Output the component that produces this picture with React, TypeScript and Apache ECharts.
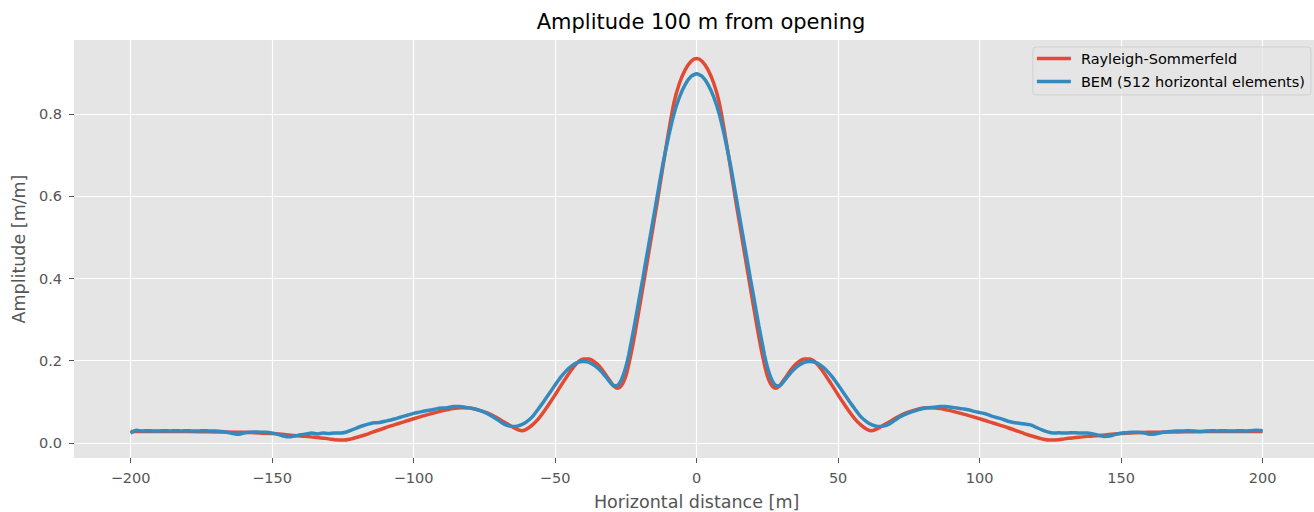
import React, { useEffect, useRef } from "react";
import * as echarts from "echarts";

// Rayleigh-Sommerfeld
const rsX = [
  -200, -190, -180, -170, -160, -150, -145, -140, -135, -130, -128, -125, -122, -120, -117, -115, -110, -105, -100, -95, -90, -86, -83, -80, -77, -74, -71, -68, -65, -63, -61.5, -60, -58, -56, -54, -52, -50, -48, -46, -44, -42, -40, -38, -36, -34, -32, -30, -29, -28, -27, -26, -25, -24, -23, -22, -20, -18, -16, -14, -12, -10, -8, -6, -4, -2,
  0,
  2, 4, 6, 8, 10, 12, 14, 16, 18, 20, 22, 23, 24, 25, 26, 27, 28, 29, 30, 32, 34, 36, 38, 40, 42, 44, 46, 48, 50, 52, 54, 56, 58, 60, 61.5, 63, 65, 68, 71, 74, 77, 80, 83, 86, 90, 95, 100, 105, 110, 115, 117, 120, 122, 125, 128, 130, 135, 140, 145, 150, 160, 170, 180, 190, 200,
];
const rsY = [
  0.028, 0.028, 0.028, 0.027, 0.026, 0.023, 0.020, 0.017, 0.014, 0.010, 0.008, 0.007, 0.010, 0.014, 0.020, 0.025, 0.037, 0.048, 0.059, 0.069, 0.078, 0.084, 0.086, 0.085, 0.080, 0.073, 0.063, 0.051, 0.039, 0.032, 0.030, 0.034, 0.044, 0.058, 0.076, 0.096, 0.117, 0.139, 0.160, 0.180, 0.196, 0.204, 0.204, 0.197, 0.184, 0.165, 0.145, 0.137, 0.133, 0.136, 0.146, 0.163, 0.19, 0.222, 0.258, 0.337, 0.418, 0.5, 0.582, 0.668, 0.752, 0.828, 0.876, 0.908, 0.928,
  0.935,
  0.928, 0.908, 0.876, 0.828, 0.752, 0.668, 0.582, 0.5, 0.418, 0.337, 0.258, 0.222, 0.19, 0.163, 0.146, 0.136, 0.133, 0.137, 0.145, 0.165, 0.184, 0.197, 0.204, 0.204, 0.196, 0.180, 0.160, 0.139, 0.117, 0.096, 0.076, 0.058, 0.044, 0.034, 0.030, 0.032, 0.039, 0.051, 0.063, 0.073, 0.080, 0.085, 0.086, 0.084, 0.078, 0.069, 0.059, 0.048, 0.037, 0.025, 0.020, 0.014, 0.010, 0.007, 0.008, 0.010, 0.014, 0.017, 0.020, 0.023, 0.026, 0.027, 0.028, 0.028, 0.028,
];

// BEM (512 horizontal elements)
const bemX = [
  -200, -198, -196, -194, -192, -190, -188, -186, -184, -182, -180, -178, -176, -174, -172, -170, -168, -166, -164, -162, -160, -158, -156, -154, -152, -150, -148, -146, -144, -142, -140, -138, -136, -134, -132, -130, -128, -126, -124, -122, -120, -118, -116, -114, -112, -110, -108, -106, -104, -102, -100, -98, -96, -94, -92, -90, -88, -86, -84, -81, -78, -75, -72, -70, -68, -66, -64, -62, -60, -58, -56, -54, -52, -50, -48, -46, -44, -42, -40, -38, -36, -34, -32, -30, -29, -28, -27, -26, -25, -24, -22, -20, -19, -18, -16, -14, -12, -10, -8, -6, -4, -2,
  0,
  2, 4, 6, 8, 10, 12, 14, 16, 18, 19, 20, 22, 24, 25, 26, 27, 28, 29, 30, 32, 34, 36, 38, 40, 42, 44, 46, 48, 50, 52, 54, 56, 58, 60, 62, 64, 66, 68, 70, 72, 75, 78, 81, 84, 86, 88, 90, 92, 94, 96, 98, 100, 102, 104, 106, 108, 110, 112, 114, 116, 118, 120, 122, 124, 126, 128, 130, 132, 134, 136, 138, 140, 142, 144, 146, 148, 150, 152, 154, 156, 158, 160, 162, 164, 166, 168, 170, 172, 174, 176, 178, 180, 182, 184, 186, 188, 190, 192, 194, 196, 198, 200,
];
const bemY = [
  0.024, 0.031, 0.029, 0.030, 0.029, 0.029, 0.030, 0.029, 0.030, 0.029, 0.030, 0.029, 0.029, 0.030, 0.029, 0.029, 0.028, 0.026, 0.023, 0.021, 0.024, 0.026, 0.027, 0.026, 0.026, 0.024, 0.021, 0.017, 0.015, 0.017, 0.020, 0.022, 0.024, 0.022, 0.024, 0.023, 0.024, 0.024, 0.026, 0.031, 0.037, 0.042, 0.046, 0.049, 0.050, 0.053, 0.056, 0.060, 0.064, 0.068, 0.072, 0.075, 0.078, 0.080, 0.083, 0.085, 0.086, 0.089, 0.089, 0.086, 0.082, 0.075, 0.064, 0.055, 0.046, 0.041, 0.040, 0.044, 0.052, 0.064, 0.082, 0.101, 0.121, 0.141, 0.160, 0.176, 0.188, 0.196, 0.198, 0.196, 0.188, 0.176, 0.160, 0.143, 0.139, 0.140, 0.148, 0.163, 0.185, 0.214, 0.285, 0.362, 0.4, 0.44, 0.518, 0.597, 0.675, 0.742, 0.800, 0.842, 0.872, 0.891,
  0.898,
  0.891, 0.872, 0.842, 0.800, 0.742, 0.675, 0.597, 0.518, 0.44, 0.4, 0.362, 0.285, 0.214, 0.185, 0.163, 0.148, 0.140, 0.139, 0.143, 0.160, 0.176, 0.188, 0.196, 0.198, 0.196, 0.188, 0.176, 0.160, 0.141, 0.121, 0.101, 0.082, 0.064, 0.052, 0.044, 0.040, 0.041, 0.046, 0.055, 0.064, 0.073, 0.080, 0.085, 0.087, 0.089, 0.089, 0.087, 0.085, 0.083, 0.081, 0.077, 0.074, 0.071, 0.066, 0.062, 0.058, 0.053, 0.050, 0.048, 0.046, 0.044, 0.038, 0.032, 0.027, 0.024, 0.025, 0.024, 0.025, 0.025, 0.024, 0.024, 0.022, 0.019, 0.016, 0.017, 0.021, 0.024, 0.025, 0.026, 0.026, 0.025, 0.021, 0.022, 0.025, 0.027, 0.028, 0.029, 0.029, 0.030, 0.029, 0.028, 0.029, 0.030, 0.029, 0.030, 0.029, 0.029, 0.030, 0.029, 0.030, 0.031, 0.030,
];

const xTicks = [-200, -150, -100, -50, 0, 50, 100, 150, 200];
const yTicks = [0, 0.2, 0.4, 0.6, 0.8];

const FONT = "DejaVu Sans";

export default function App() {
  const ref = useRef<HTMLDivElement>(null);
  useEffect(() => {
    if (!ref.current) return;
    const chart = echarts.init(ref.current, null, { renderer: "svg" });
    const rsData = rsX.map((x, i) => [x, rsY[i]]);
    const bemData = bemX.map((x, i) => [x, bemY[i]]);
    chart.setOption({
      animation: false,
      backgroundColor: "#ffffff",
      textStyle: { fontFamily: FONT },
      title: {
        text: "Amplitude 100 m from opening",
        left: 696,
        textAlign: "center",
        top: 6,
        textStyle: { fontFamily: FONT, fontSize: 21, fontWeight: "normal", color: "#000000" },
      },
      legend: {
        orient: "vertical",
        right: 9,
        top: 47,
        icon: "rect",
        itemWidth: 34,
        itemHeight: 3.5,
        itemGap: 8,
        padding: [4, 6, 6, 4],
        backgroundColor: "rgba(229,229,229,0.8)",
        borderColor: "rgba(204,204,204,0.8)",
        borderWidth: 1,
        borderRadius: 3,
        align: "left",
        textStyle: { fontFamily: FONT, fontSize: 14.5, color: "#000000", lineHeight: 15, padding: [0, 0, 0, 5] },
        data: ["Rayleigh-Sommerfeld", "BEM (512 horizontal elements)"],
      },
      grid: {
        left: 74,
        top: 40,
        width: 1245.2,
        height: 418,
        backgroundColor: "#E5E5E5",
        show: true,
        borderWidth: 0,
        containLabel: false,
        outerBoundsMode: "none",
      },
      xAxis: {
        type: "value",
        min: -220,
        max: 220,
        position: "bottom",
        name: "Horizontal distance [m]",
        nameLocation: "middle",
        nameGap: 35,
        nameTextStyle: { fontFamily: FONT, fontSize: 17.5, color: "#555555" },
        axisLine: { show: false, onZero: false },
        axisTick: { show: true, inside: false, length: 5, customValues: xTicks, lineStyle: { color: "#555555", width: 1 } },
        axisLabel: {
          customValues: xTicks,
          margin: 12,
          fontFamily: FONT,
          fontSize: 14.5,
          color: "#555555",
          formatter: (v: number) => (v < 0 ? "\u2212" + Math.abs(v) : String(v)),
        },
        splitLine: { show: true, lineStyle: { color: "#ffffff", width: 1.2 } },
      },
      yAxis: {
        type: "value",
        min: -0.0365,
        max: 0.98,
        position: "left",
        name: "Amplitude [m/m]",
        nameLocation: "middle",
        nameGap: 46,
        nameTextStyle: { fontFamily: FONT, fontSize: 17.5, color: "#555555" },
        axisLine: { show: false, onZero: false },
        axisTick: { show: true, inside: false, length: 5, customValues: yTicks, lineStyle: { color: "#555555", width: 1 } },
        axisLabel: {
          customValues: yTicks,
          margin: 12,
          fontFamily: FONT,
          fontSize: 14.5,
          color: "#555555",
          formatter: (v: number) => v.toFixed(1),
        },
        splitLine: { show: true, lineStyle: { color: "#ffffff", width: 1.2 } },
      },
      series: [
        {
          name: "Rayleigh-Sommerfeld",
          type: "line",
          data: rsData,
          showSymbol: false,
          symbol: "none",
          smooth: 0.3,
          lineStyle: { color: "#E24A33", width: 3.5 },
          itemStyle: { color: "#E24A33" },
        },
        {
          name: "BEM (512 horizontal elements)",
          type: "line",
          data: bemData,
          showSymbol: false,
          symbol: "none",
          smooth: 0.2,
          lineStyle: { color: "#348ABD", width: 3.5 },
          itemStyle: { color: "#348ABD" },
        },
      ],
    });
    return () => chart.dispose();
  }, []);
  return (
    <div style={{ position: "absolute", left: 0, top: 0, width: 1314, height: 512, overflow: "hidden", background: "#fff" }}>
      <div ref={ref} style={{ width: 1320, height: 512 }} />
    </div>
  );
}
